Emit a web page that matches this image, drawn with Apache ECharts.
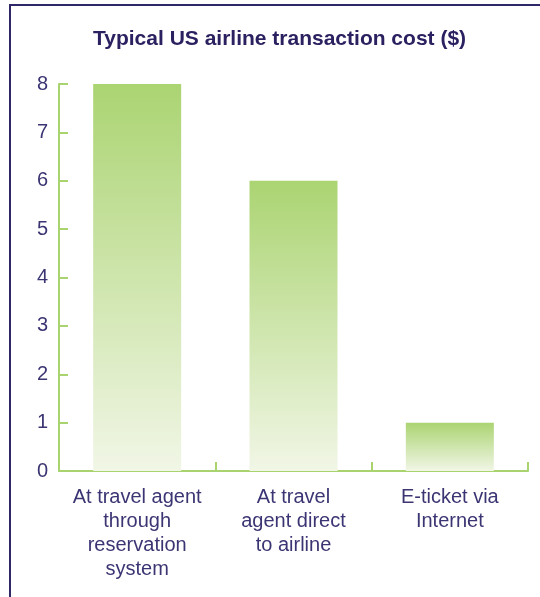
<!DOCTYPE html>
<html>
<head>
<meta charset="utf-8">
<script src="https://cdn.jsdelivr.net/npm/echarts@6/dist/echarts.min.js"></script>
<style>
  html, body { margin: 0; padding: 0; background: #fff; }
  #chart { width: 540px; height: 597px; }
</style>
</head>
<body>
<div id="chart"></div>
<script>
// 柱状图 - typical US airline transaction cost
const categories = [
  'At travel agent\nthrough\nreservation\nsystem',
  'At travel\nagent direct\nto airline',
  'E-ticket via\nInternet'
]
const costs = [8, 6, 1]
const yTicks = [0, 1, 2, 3, 4, 5, 6, 7, 8]

const navy = '#3b3573'
const green = '#a9d36f'

const myChart = echarts.init(document.getElementById('chart'))
const option = {
  animation: false,
  title: {
    text: 'Typical US airline transaction cost ($)',
    left: 88,
    top: 24,
    textStyle: {
      color: '#2b2160',
      fontFamily: 'Liberation Sans, Arial, sans-serif',
      fontWeight: 'bold',
      fontSize: 21,
    },
  },
  grid: {
    left: 59,
    right: 12,
    top: 84,
    bottom: 126,
  },
  xAxis: {
    type: 'category',
    data: categories,
    boundaryGap: true,
    axisLine: { lineStyle: { color: green, width: 2 } },
    axisTick: {
      show: true,
      interval: 0,
      inside: true,
      length: 9,
      lineStyle: { color: green, width: 2 },
    },
    axisLabel: {
      color: navy,
      fontFamily: 'Liberation Sans, Arial, sans-serif',
      fontSize: 20,
      lineHeight: 24,
      margin: 14,
      interval: 0,
    },
  },
  yAxis: {
    type: 'value',
    min: yTicks[0],
    max: yTicks[yTicks.length - 1],
    interval: 1,
    splitLine: { show: false },
    axisLine: { show: true, lineStyle: { color: green, width: 2 } },
    axisTick: { show: true, inside: true, length: 9, lineStyle: { color: green, width: 2 } },
    axisLabel: {
      color: navy,
      fontFamily: 'Liberation Sans, Arial, sans-serif',
      fontSize: 20,
      margin: 11,
    },
  },
  series: [
    {
      type: 'bar',
      data: costs,
      barWidth: 88,
      itemStyle: {
        color: new echarts.graphic.LinearGradient(0, 0, 0, 1, [
          { offset: 0, color: '#abd472' },
          { offset: 1, color: '#f1f6e6' },
        ]),
      },
    },
  ],
  graphic: [
    {
      type: 'polyline',
      shape: { points: [[10, 597], [10, 5], [540, 5]] },
      style: { stroke: '#2e2868', lineWidth: 2, fill: null },
    },
  ],
}

option && myChart.setOption(option)
</script>
</body>
</html>
